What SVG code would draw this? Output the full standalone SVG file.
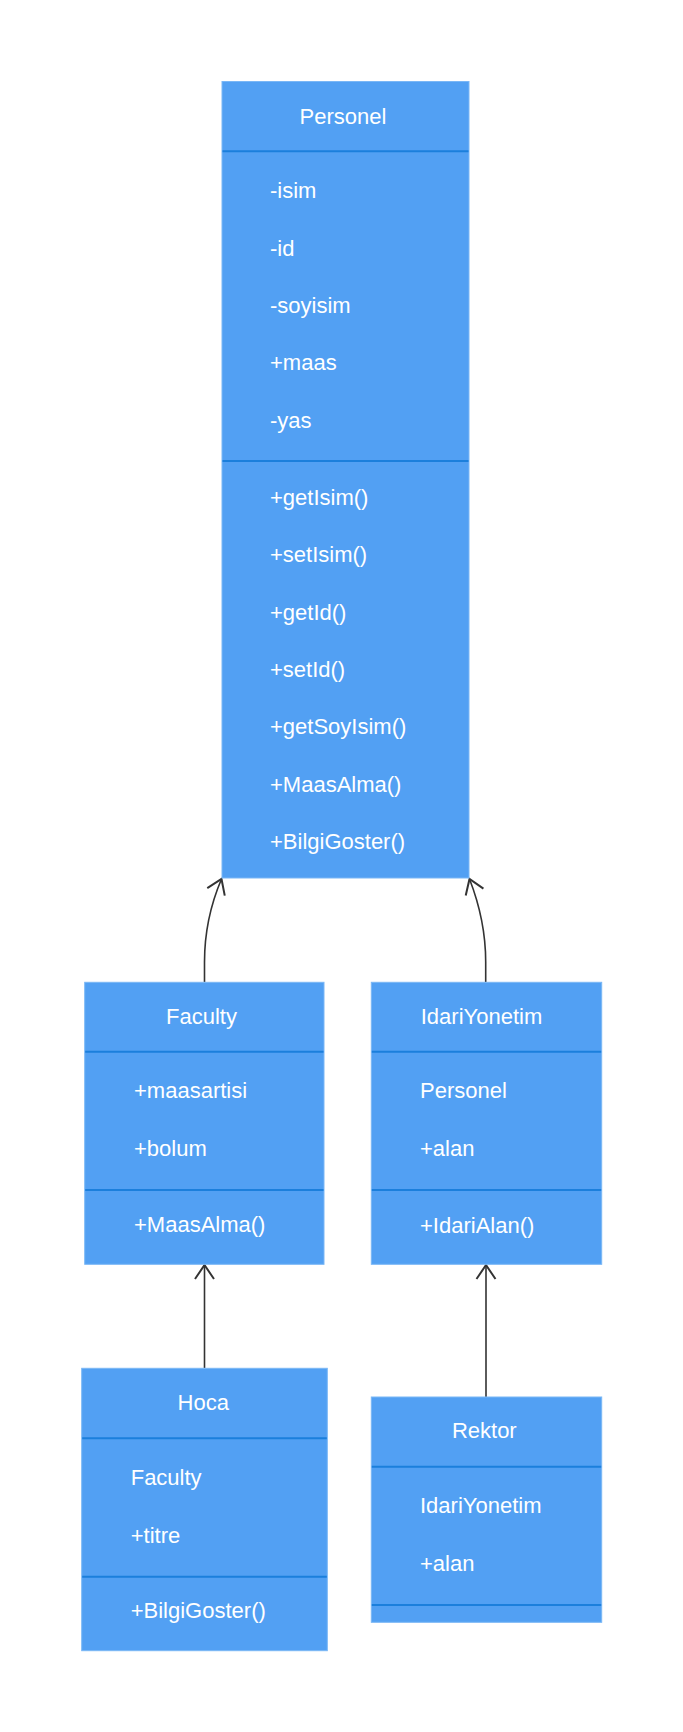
<svg xmlns="http://www.w3.org/2000/svg" width="683" height="1732" viewBox="0 0 683 1732">
<style>
.box{fill:#52a0f3;stroke:#7ab7f6;stroke-width:1}
.sep{stroke:#1b7fdc;stroke-width:2}
.t{font-family:"Liberation Sans",Arial,sans-serif;font-size:22px;fill:#ffffff}
.c{text-anchor:middle}
.edge{fill:none;stroke:#333333;stroke-width:1.6}
</style>
<defs>
<marker id="arr" markerUnits="userSpaceOnUse" viewBox="-16 -12 20 24" refX="0" refY="0" markerWidth="20" markerHeight="24" orient="auto">
<path d="M-14,-9.5 L0,0 L-14,9.5" fill="none" stroke="#333333" stroke-width="2"/>
</marker>
</defs>
<rect width="683" height="1732" fill="#ffffff"/>
<g id="connectors">
<path class="edge" d="M204.5,982 L204.5,962 C204.5,932 210,906 221.5,879" marker-end="url(#arr)"/>
<path class="edge" d="M485.7,982 L485.7,962 C485.7,932 480,906 469.5,879" marker-end="url(#arr)"/>
<path class="edge" d="M204.5,1368 L204.5,1265" marker-end="url(#arr)"/>
<path class="edge" d="M486,1397 L486,1265" marker-end="url(#arr)"/>
</g>
<g id="Personel">
<rect class="box" x="222" y="81.5" width="247" height="796.5"/>
<line class="sep" x1="222.5" y1="151.2" x2="468.5" y2="151.2"/>
<line class="sep" x1="222.5" y1="461" x2="468.5" y2="461"/>
<text class="t c" x="343" y="124.3">Personel</text>
<text class="t" x="270" y="198.3">-isim</text>
<text class="t" x="270" y="255.6">-id</text>
<text class="t" x="270" y="313">-soyisim</text>
<text class="t" x="270" y="370.3">+maas</text>
<text class="t" x="270" y="427.6">-yas</text>
<text class="t" x="270" y="505">+getIsim()</text>
<text class="t" x="270" y="562.3">+setIsim()</text>
<text class="t" x="270" y="619.7">+getId()</text>
<text class="t" x="270" y="677">+setId()</text>
<text class="t" x="270" y="734.3">+getSoyIsim()</text>
<text class="t" x="270" y="791.7">+MaasAlma()</text>
<text class="t" x="270" y="849">+BilgiGoster()</text>
</g>
<g id="Faculty">
<rect class="box" x="84.7" y="982.3" width="239.3" height="282"/>
<line class="sep" x1="85.2" y1="1051.7" x2="323.5" y2="1051.7"/>
<line class="sep" x1="85.2" y1="1190" x2="323.5" y2="1190"/>
<text class="t c" x="201.5" y="1024">Faculty</text>
<text class="t" x="134" y="1098.3">+maasartisi</text>
<text class="t" x="134" y="1156">+bolum</text>
<text class="t" x="134" y="1232">+MaasAlma()</text>
</g>
<g id="IdariYonetim">
<rect class="box" x="371.3" y="982.3" width="230.4" height="282"/>
<line class="sep" x1="371.8" y1="1051.7" x2="601.2" y2="1051.7"/>
<line class="sep" x1="371.8" y1="1190" x2="601.2" y2="1190"/>
<text class="t c" x="481.5" y="1024">IdariYonetim</text>
<text class="t" x="420" y="1098.3">Personel</text>
<text class="t" x="420" y="1156">+alan</text>
<text class="t" x="420" y="1233">+IdariAlan()</text>
</g>
<g id="Hoca">
<rect class="box" x="81.7" y="1368.3" width="245.6" height="282.4"/>
<line class="sep" x1="82.2" y1="1438.3" x2="326.8" y2="1438.3"/>
<line class="sep" x1="82.2" y1="1576.7" x2="326.8" y2="1576.7"/>
<text class="t c" x="203.3" y="1410">Hoca</text>
<text class="t" x="130.7" y="1485.3">Faculty</text>
<text class="t" x="130.7" y="1542.7">+titre</text>
<text class="t" x="130.7" y="1617.7">+BilgiGoster()</text>
</g>
<g id="Rektor">
<rect class="box" x="371.3" y="1397" width="230.4" height="225.3"/>
<line class="sep" x1="371.8" y1="1466.7" x2="601.2" y2="1466.7"/>
<line class="sep" x1="371.8" y1="1605" x2="601.2" y2="1605"/>
<text class="t c" x="484.3" y="1438.3">Rektor</text>
<text class="t" x="420" y="1513.3">IdariYonetim</text>
<text class="t" x="420" y="1570.7">+alan</text>
</g>
</svg>
